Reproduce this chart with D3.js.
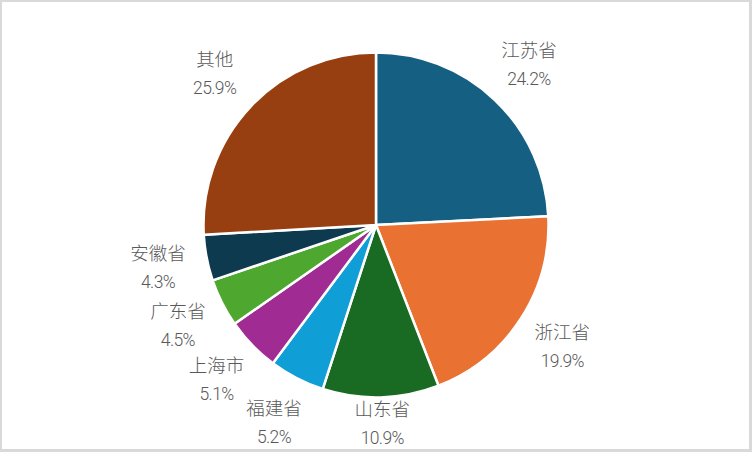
<!DOCTYPE html>
<html>
<head>
<meta charset="utf-8">
<script src="https://cdn.jsdelivr.net/npm/d3@7/dist/d3.min.js"></script>
<style>
  html, body { margin: 0; padding: 0; background: #ffffff; }
  svg { display: block; }
</style>
</head>
<body>
<svg id="chart" width="752" height="452"></svg>
<script>
// ---- data ----
const categories = ["江苏省", "浙江省", "山东省", "福建省", "上海市", "广东省", "安徽省", "其他"];
const shares = [24.2, 19.9, 10.9, 5.2, 5.1, 4.5, 4.3, 25.9];
const percentLabels = ["24.2%", "19.9%", "10.9%", "5.2%", "5.1%", "4.5%", "4.3%", "25.9%"];
const colors = ["#156082", "#e97132", "#196b24", "#0f9ed5", "#a02b93", "#4ea72e", "#0e3a50", "#973f10"];

const W = 752, H = 452;
const cx = 376, cy = 225, R = 172.5, labelR = 222;
const svg = d3.select("#chart");

// frame
svg.append("rect").attr("x", 0).attr("y", 0).attr("width", W).attr("height", H).attr("fill", "#d9d9d9");
svg.append("rect").attr("x", 2).attr("y", 2).attr("width", W - 5).attr("height", H - 5).attr("fill", "#ffffff");

const data = categories.map((c, i) => ({ name: c, value: shares[i], label: percentLabels[i], color: colors[i] }));

const pie = d3.pie().value(d => d.value).sort(null);
const arcs = pie(data);
const arc = d3.arc().innerRadius(0).outerRadius(R);

const g = svg.append("g").attr("transform", `translate(${cx},${cy})`);
g.selectAll("path.slice")
  .data(arcs)
  .join("path")
  .attr("class", "slice")
  .attr("d", arc)
  .attr("fill", d => d.data.color)
  .attr("stroke", "#ffffff")
  .attr("stroke-width", 2.5)
  .attr("stroke-linejoin", "round");

const fontFam = '"Roboto", "Noto Sans CJK SC", sans-serif';
const maxLabelY = 423 - cy;
const labels = g.selectAll("g.lbl")
  .data(arcs)
  .join("g")
  .attr("class", "lbl")
  .attr("transform", d => {
    const a = (d.startAngle + d.endAngle) / 2;
    const x = labelR * Math.sin(a);
    let y = -labelR * Math.cos(a);
    y = Math.min(y, maxLabelY);
    return `translate(${x},${y})`;
  });

labels.append("text")
  .attr("text-anchor", "middle")
  .attr("y", -7)
  .attr("font-family", '"Noto Sans CJK SC", sans-serif')
  .attr("font-size", 18.5)
  .attr("font-weight", 300)
  .attr("fill", "#595959")
  .text(d => d.data.name);

labels.append("text")
  .attr("text-anchor", "middle")
  .attr("y", 21)
  .attr("font-family", fontFam)
  .attr("font-size", 17.5)
  .attr("font-weight", 300)
  .attr("letter-spacing", -0.6)
  .attr("fill", "#595959")
  .text(d => d.data.label);
</script>
</body>
</html>
